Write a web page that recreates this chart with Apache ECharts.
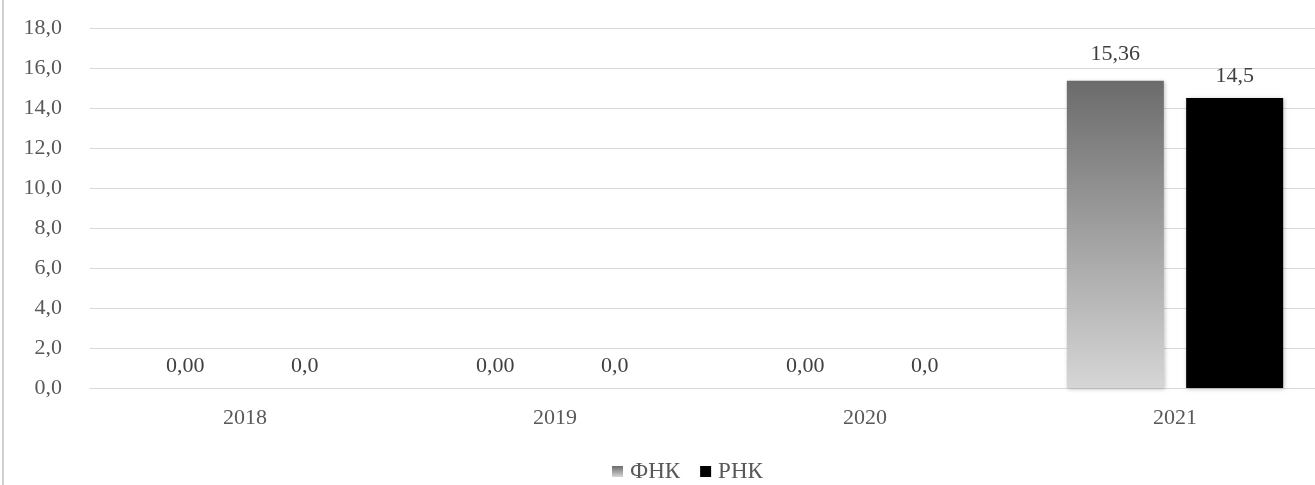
<!DOCTYPE html>
<html><head><meta charset="utf-8">
<script src="https://cdn.jsdelivr.net/npm/echarts@6/dist/echarts.min.js"></script>
<style>html,body{margin:0;padding:0;background:#fff}#c{width:1315px;height:485px}</style>
</head><body><div id="c"></div>
<script>
const categories = ['2018', '2019', '2020', '2021'];
const fnk = [0, 0, 0, 15.36];
const rnk = [0, 0, 0, 14.5];
const seriesNames = ['ФНК', 'РНК'];

const font = '"Liberation Serif", "Times New Roman", serif';
const FS = 22;
const chart = echarts.init(document.getElementById('c'));
chart.setOption({
  animation: false,
  graphic: [{type: 'rect', shape: {x: 2, y: 0, width: 2, height: 485}, style: {fill: '#d0d0d0'}}],
  grid: {left: 90, top: 28, width: 1240, height: 360, outerBoundsMode: 'none', containLabel: false},
  legend: {
    top: 455, left: 607, itemWidth: 11, itemHeight: 11, itemGap: 20,
    icon: 'rect',
    textStyle: {fontFamily: font, fontSize: 23, color: '#595959', padding: [0, 0, 0, 2]},
    data: seriesNames
  },
  xAxis: {
    type: 'category', data: categories,
    axisLine: {lineStyle: {color: '#d9d9d9', width: 1}},
    axisTick: {show: false},
    axisLabel: {fontFamily: font, fontSize: FS, color: '#595959', margin: 19}
  },
  yAxis: {
    type: 'value', min: 0, max: 18, interval: 2,
    axisLine: {show: false}, axisTick: {show: false},
    splitLine: {lineStyle: {color: '#d9d9d9', width: 1}},
    axisLabel: {fontFamily: font, fontSize: FS, color: '#595959', margin: 28,
      formatter: v => v.toFixed(1).replace('.', ',')}
  },
  series: [
    {
      name: seriesNames[0], type: 'bar', barWidth: 97, barGap: '23%',
      data: fnk.map((v, i) => i === fnk.length - 1 ? {value: v, label: {distance: 16}} : v),
      itemStyle: {
        color: new echarts.graphic.LinearGradient(0, 0, 0, 1, [
          {offset: 0, color: '#6b6b6b'}, {offset: 1, color: '#d6d6d6'}]),
        shadowColor: 'rgba(0,0,0,0.25)', shadowBlur: 4, shadowOffsetX: 1, shadowOffsetY: 1
      },
      label: {show: true, position: 'top', distance: 11, fontFamily: font, fontSize: FS, color: '#404040',
        formatter: p => p.value.toFixed(2).replace('.', ',')}
    },
    {
      name: seriesNames[1], type: 'bar', data: rnk, barWidth: 97,
      itemStyle: {color: '#000000', shadowColor: 'rgba(0,0,0,0.25)', shadowBlur: 4, shadowOffsetX: 1, shadowOffsetY: 1},
      label: {show: true, position: 'top', distance: 11, fontFamily: font, fontSize: FS, color: '#404040',
        formatter: p => p.value.toFixed(1).replace('.', ',')}
    }
  ]
});
</script></body></html>
